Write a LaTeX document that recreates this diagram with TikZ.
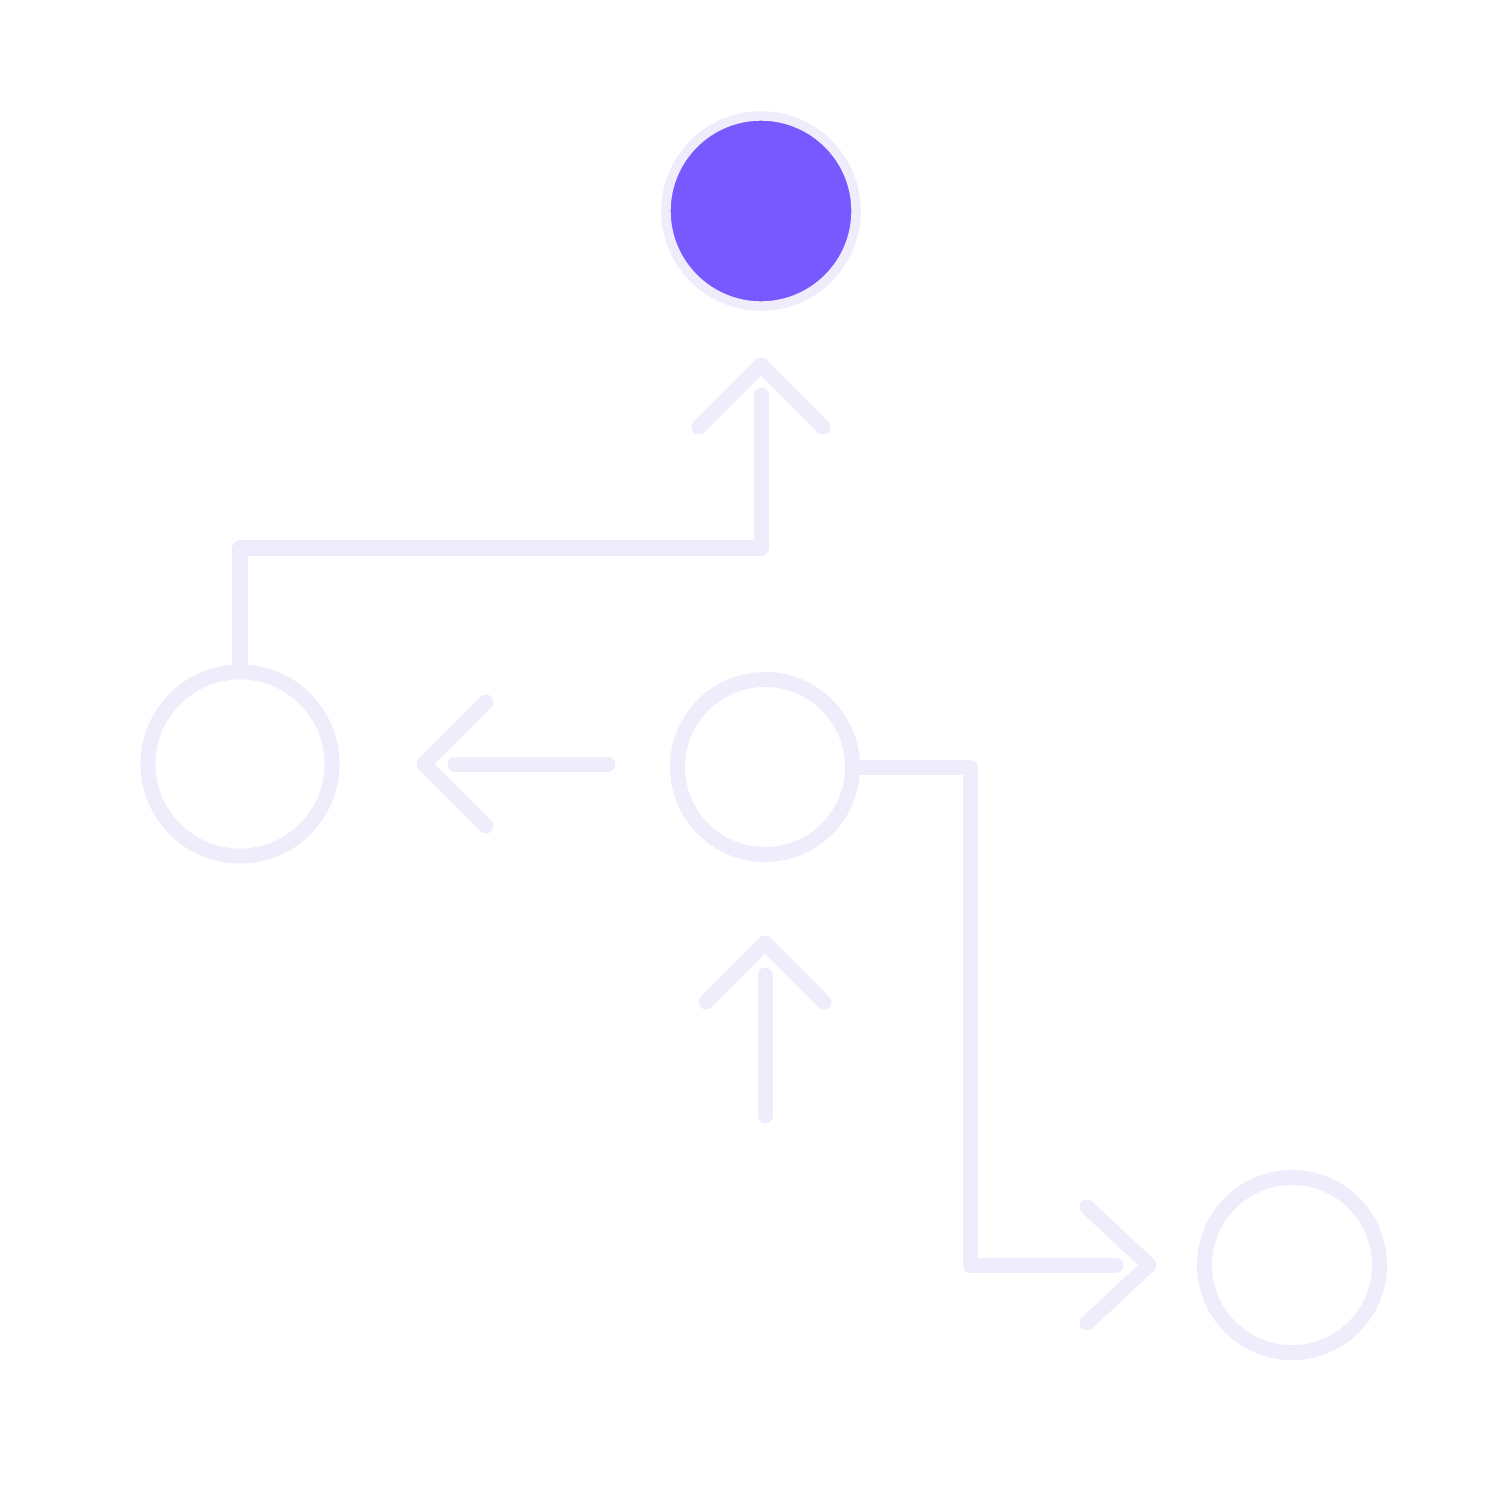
\documentclass[tikz,border=0pt]{standalone}
\usepackage{xcolor}
\usetikzlibrary{positioning,calc}
\definecolor{pale}{HTML}{EFECFC}
\definecolor{dotviolet}{HTML}{7858FF}

\begin{document}
\begin{tikzpicture}[x=0.01cm,y=-0.01cm,
    link/.style={draw=pale, line width=1.5mm, line cap=round, line join=round},
    ring/.style={circle, draw=pale, line width=1.5mm, inner sep=0pt, minimum size=1.75cm}]
    \useasboundingbox (0,0) rectangle (1500,1500);

    % Circles
    \node[circle, fill=dotviolet, draw=pale, line width=0.95mm, inner sep=0pt, minimum size=1.9cm] (goal) at (761,211) {};
    \node[ring, minimum size=1.84cm] (left) at (240,764) {};
    \node[ring] (mid) at (765,767) {};
    \node[ring] (right) at (1292,1265) {};

    % Bends and shaft ends
    \coordinate (bendA) at (761,548);
    \coordinate (endA) at (761,395);
    \coordinate (bendB) at (970,767);
    \coordinate (endB) at (1116,1265);
    \coordinate (leftS) at (608,764);
    \coordinate (leftE) at (455,764);
    \coordinate (upS) at (765,1116);
    \coordinate (upE) at (765,975);

    % Connectors
    \draw[link] (left.north) |- (bendA) -- (endA);
    \draw[link] (mid.east) -- (bendB) |- (endB);
    \draw[link] (leftS) -- (leftE);
    \draw[link] (upS) -- (upE);

    % Arrow heads
    \draw[link] (699,427) -- (761,365) -- (823,427);
    \draw[link] (486,702) -- (424,764) -- (486,826);
    \draw[link] (706,1002) -- (765,943) -- (824,1002);
    \draw[link] (1087,1207) -- (1149,1265) -- (1087,1323);
\end{tikzpicture}
\end{document}
